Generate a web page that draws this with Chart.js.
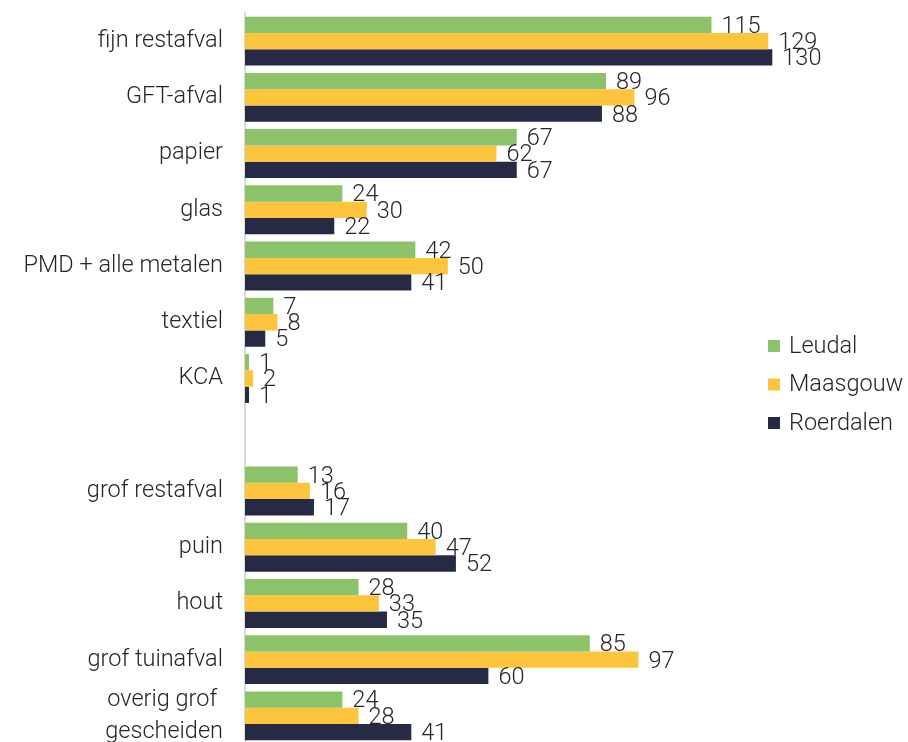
<!DOCTYPE html>
<html>
<head>
<meta charset="utf-8">
<script src="https://cdn.jsdelivr.net/npm/chart.js@4/dist/chart.umd.min.js"></script>
<style>
  html, body { margin: 0; padding: 0; background: #fff; overflow: hidden; }
  #wrap { position: relative; width: 908px; height: 750px; }
</style>
</head>
<body>
<div id="wrap"><canvas id="myChart"></canvas></div>
<script>
// categorieën (lege regel tussen KCA en grof restafval)
const categories = [
  "fijn restafval", "GFT-afval", "papier", "glas", "PMD + alle metalen",
  "textiel", "KCA", "", "grof restafval", "puin", "hout", "grof tuinafval",
  ["overig grof ", "gescheiden"]
];

const leudal    = [115, 89, 67, 24, 42, 7, 1, null, 13, 40, 28, 85, 24];
const maasgouw  = [129, 96, 62, 30, 50, 8, 2, null, 16, 47, 33, 97, 28];
const roerdalen = [130, 88, 67, 22, 41, 5, 1, null, 17, 52, 35, 60, 41];

const seriesNames = ["Leudal", "Maasgouw", "Roerdalen"];
const seriesColors = ["#8cc36a", "#fdc43e", "#262a45"];

const textColor = "#262626";
const fontFamily = "Roboto, 'Liberation Sans', sans-serif";

// waarden naast de balken
const valueLabels = {
  id: "valueLabels",
  afterDatasetsDraw(chart) {
    const ctx = chart.ctx;
    ctx.save();
    ctx.font = "300 23.5px " + fontFamily;
    ctx.fillStyle = textColor;
    ctx.textAlign = "left";
    ctx.textBaseline = "middle";
    chart.data.datasets.forEach((ds, i) => {
      const meta = chart.getDatasetMeta(i);
      meta.data.forEach((bar, j) => {
        const v = ds.data[j];
        if (v === null || v === undefined) return;
        ctx.fillText(String(v), bar.x + 10, bar.y + 2);
      });
    });
    ctx.restore();
  }
};

// legenda rechts
const sideLegend = {
  id: "sideLegend",
  afterDraw(chart) {
    const ctx = chart.ctx;
    ctx.save();
    ctx.font = "300 23.5px " + fontFamily;
    ctx.textBaseline = "middle";
    ctx.textAlign = "left";
    seriesNames.forEach((name, i) => {
      const y = 346 + i * 38.5;
      ctx.fillStyle = seriesColors[i];
      ctx.fillRect(768, y - 6, 12, 12);
      ctx.fillStyle = textColor;
      ctx.fillText(name, 789, y + 1);
    });
    ctx.restore();
  }
};

const ctx = document.getElementById("myChart").getContext("2d");
const myChart = new Chart(ctx, {
  type: "bar",
  data: {
    labels: categories,
    datasets: [
      { label: seriesNames[0], data: leudal, backgroundColor: seriesColors[0] },
      { label: seriesNames[1], data: maasgouw, backgroundColor: seriesColors[1] },
      { label: seriesNames[2], data: roerdalen, backgroundColor: seriesColors[2] }
    ]
  },
  options: {
    indexAxis: "y",
    responsive: true,
    maintainAspectRatio: false,
    animation: false,
    categoryPercentage: 0.87,
    barPercentage: 1.0,
    layout: {
      autoPadding: false,
      padding: { top: 13, bottom: 6, left: 0, right: 14 }
    },
    plugins: {
      legend: { display: false },
      tooltip: { enabled: false }
    },
    scales: {
      x: {
        display: false,
        min: 0,
        max: 160
      },
      y: {
        grid: { display: false, drawTicks: false },
        border: { display: true, color: "#d9d9d9", width: 2 },
        ticks: {
          color: textColor,
          font: { family: fontFamily, size: 23.5, weight: "300", lineHeight: 1.35 },
          padding: 22,
          autoSkip: false
        },
        afterFit(scale) {
          scale.width = 245;
          scale.paddingTop = 0;
          scale.paddingBottom = 0;
        }
      }
    }
  },
  plugins: [valueLabels, sideLegend]
});
</script>
</body>
</html>
